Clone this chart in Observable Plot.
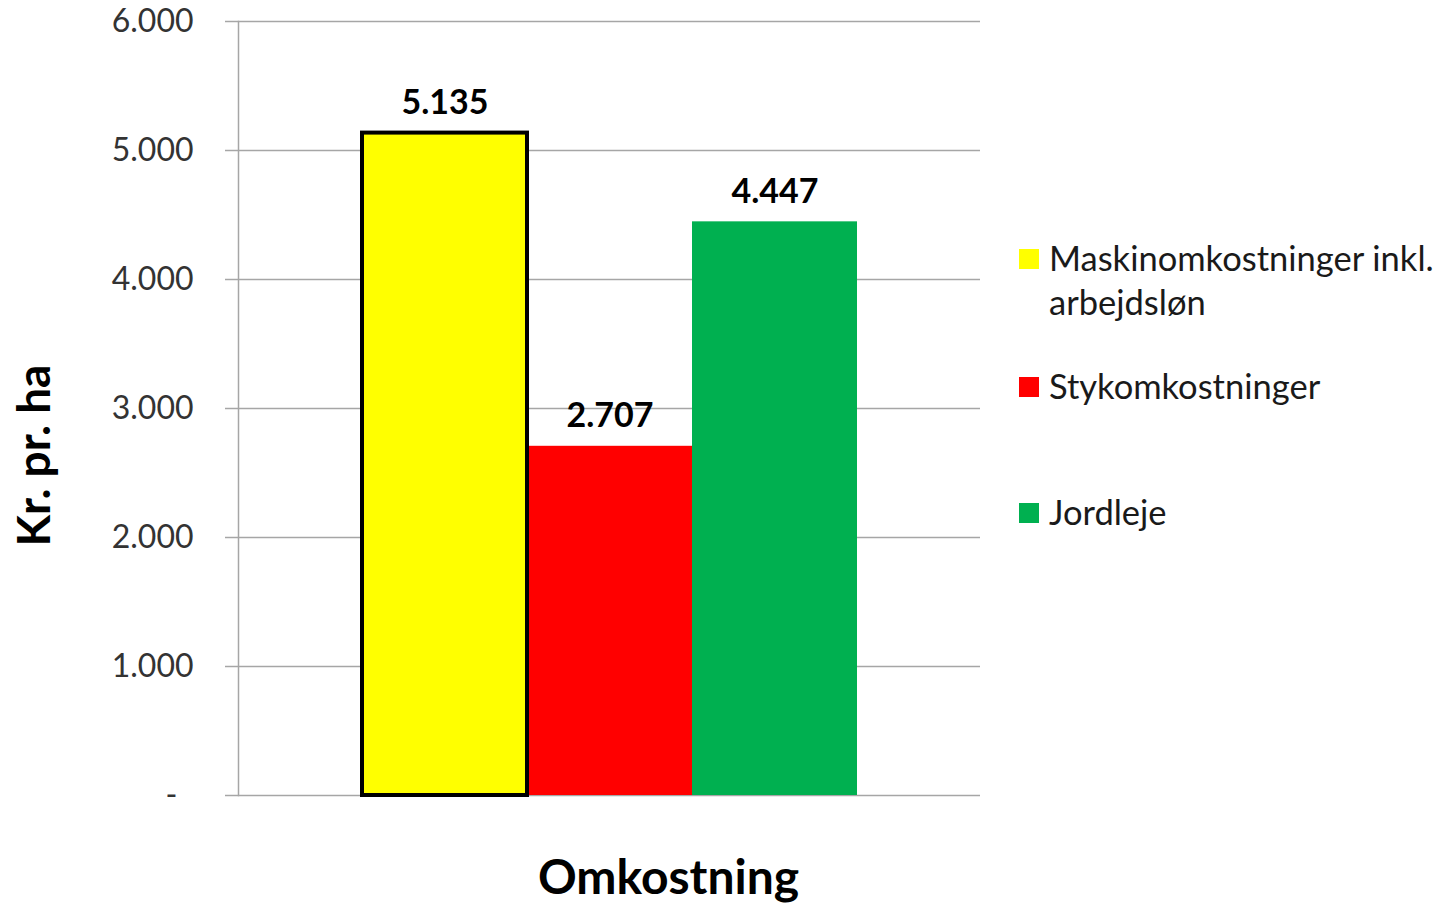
<!DOCTYPE html>
<html>
<head>
<meta charset="utf-8">
<script src="https://cdn.jsdelivr.net/npm/d3@7"></script>
<script src="https://cdn.jsdelivr.net/npm/@observablehq/plot@0.6"></script>
<style>
  html, body { margin: 0; padding: 0; background: #fff; }
  #wrap { position: relative; width: 1449px; height: 903px; font-family: Lato, "Open Sans", sans-serif; }
  .leg { position: absolute; left: 1019px; font-size: 34.5px; color: #1a1a1a; }
  .leg .sw { position: absolute; left: 0; width: 20px; height: 20px; }
  .leg .tx { position: absolute; left: 30px; white-space: nowrap; line-height: 44px; }
</style>
</head>
<body>
<div id="wrap"></div>
<script>
const categories = ["Maskinomkostninger inkl. arbejdsløn", "Stykomkostninger", "Jordleje"];
const legendLines = [["Maskinomkostninger inkl.", "arbejdsløn"], ["Stykomkostninger"], ["Jordleje"]];
const values = [5135, 2707, 4447];
const colors = ["#FFFF00", "#FF0000", "#00B050"];
const yTicks = [0, 1000, 2000, 3000, 4000, 5000, 6000];
const xTitle = "Omkostning";
const yTitle = "Kr. pr. ha";

const data = categories.map((c, i) => ({category: c, value: values[i], color: colors[i]}));
const loc = d3.formatLocale({decimal: ",", thousands: ".", grouping: [3], currency: ["", ""]});
const fmt = loc.format(",");
const tickFmt = d => d === 0 ? "-\u2002" : fmt(d);

const chart = Plot.plot({
  width: 1449,
  height: 903,
  marginLeft: 238,
  marginRight: 469,
  marginTop: 21,
  marginBottom: 108,
  style: {fontFamily: "Lato, 'Open Sans', sans-serif", background: "#fff"},
  x: {domain: categories, paddingInner: 0, paddingOuter: 0.74, axis: null},
  y: {domain: [0, 6000], ticks: yTicks},
  marks: [
    Plot.gridY(yTicks, {stroke: "#a6a6a6", strokeOpacity: 1, strokeWidth: 1.5}),
    Plot.frame({anchor: "left", stroke: "#a6a6a6", strokeWidth: 1.5}),
    Plot.axisY(yTicks, {tickFormat: tickFmt, tickSize: 13, tickPadding: 32, stroke: "#a6a6a6", strokeWidth: 1.5, fontSize: 32, fill: "#333", label: null}),
    Plot.barY(data, {x: "category", y: "value", fill: "color"}),
    Plot.barY(data.filter((d, i) => i === 0), {x: "category", y: "value", fill: "none", stroke: "#000", strokeWidth: 4}),
    Plot.text(data, {x: "category", y: "value", text: d => fmt(d.value), lineAnchor: "bottom", dy: -19, fontSize: 34, fontWeight: "bold", fill: "#000"}),
    Plot.text([xTitle], {frameAnchor: "bottom", text: d => d, textAnchor: "middle", lineAnchor: "middle", dx: 59, dy: 83, fontSize: 48, fontWeight: "bold", fill: "#000"}),
    Plot.text([yTitle], {frameAnchor: "left", text: d => d, textAnchor: "middle", lineAnchor: "middle", rotate: -90, dx: -203, dy: 47, fontSize: 46, fontWeight: "bold", fill: "#000"})
  ]
});

const wrap = document.getElementById("wrap");
wrap.appendChild(chart);
chart.style.position = "absolute";
chart.style.left = "0";
chart.style.top = "0";

const legTops = [236, 364, 490];
legendLines.forEach((lines, i) => {
  const div = document.createElement("div");
  div.className = "leg";
  div.style.top = legTops[i] + "px";
  const sw = document.createElement("div");
  sw.className = "sw";
  sw.style.background = colors[i];
  sw.style.top = "13px";
  div.appendChild(sw);
  const tx = document.createElement("div");
  tx.className = "tx";
  tx.innerHTML = lines.join("<br>");
  div.appendChild(tx);
  wrap.appendChild(div);
});
</script>
</body>
</html>
